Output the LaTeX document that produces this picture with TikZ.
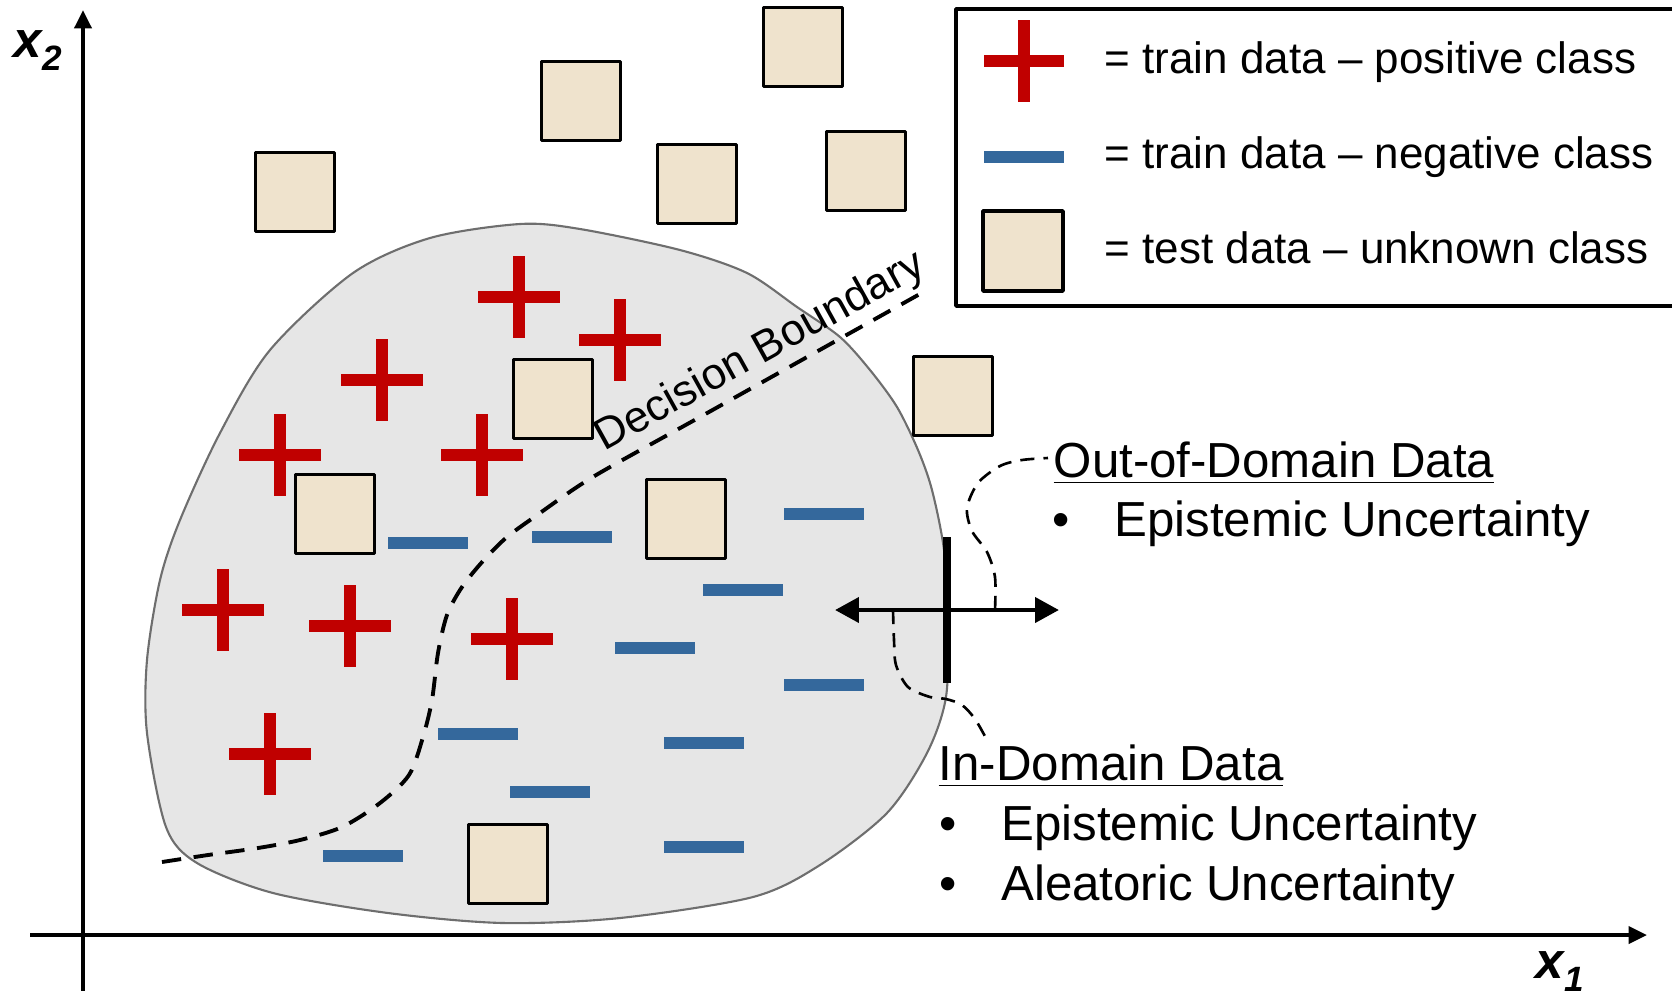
\documentclass[tikz,border=0pt]{standalone}
\usepackage{fontspec}
\setmainfont{Liberation Sans}
\usepackage{tikz}
\usetikzlibrary{arrows.meta}
\definecolor{posred}{RGB}{192,0,0}
\definecolor{negblue}{RGB}{52,104,156}
\definecolor{testbeige}{RGB}{239,227,205}
\definecolor{domaingray}{RGB}{230,230,230}
\definecolor{rimgray}{RGB}{110,110,110}
\tikzstyle{every node}=[font=\fontsize{14}{16}\selectfont,inner sep=0pt]

\begin{document}
\begin{tikzpicture}[line join=round,x=0.01cm,y=-0.01cm,
    testbox/.style={draw=black,line width=1pt,fill=testbeige,minimum size=0.79cm},
    posmark/.style={line width=3.3pt,color=posred},
    negmark/.style={line width=3.3pt,color=negblue},
    axisline/.style={line width=1.1pt,-{Triangle[length=5.2pt,width=4.8pt]}},
    callout/.style={line width=0.75pt,dash pattern=on 4pt off 2.6pt},
    legtext/.style={anchor=base west,font=\fontsize{12.5}{14}\selectfont},
    labtext/.style={anchor=base west},
    axislabel/.style={anchor=base west,font=\fontsize{14.5}{16}\selectfont\bfseries\itshape}]
\useasboundingbox (0,0) rectangle (1672,990);
\clip (0,0) rectangle (1672,990);

% region of the training data
\draw[line width=0.6pt,color=rimgray,fill=domaingray] plot[smooth cycle] coordinates {
  (520,224) (580,229) (680,250) (747,273) (797,307) (840,337) (870,370) (897,407)
  (918,450) (932,490) (944,550) (948,620) (946,697) (927,753) (887,813) (820,865)
  (753,897) (620,918) (503,923) (388,913) (273,893) (197,863) (166,827) (147,733)
  (147,660) (160,580) (180,520) (220,433) (270,350) (353,273) (430,238)};

% decision boundary
\draw[line width=1.1pt,dash pattern=on 5.5pt off 3.6pt] plot[smooth] coordinates {
  (162,862) (208,855) (258,848) (300,840) (342,827) (380,803) (409,775) (423,737)
  (432,700) (438,653) (447,615) (462,587) (483,561) (507,537) (540,513) (577,487)
  (610,467) (700,417) (800,361) (927,290)};
\node[rotate=29,anchor=base west,font=\fontsize{12.5}{14}\selectfont] (dbound) at (604,452) {Decision Boundary};

% positive class
\foreach \p in {(519,297),(620,340),(382,380),(280,455),(482,455),(223,610),(350,626),(512,639),(270,754)}
  \draw[posmark] \p +(-41,0) -- +(41,0) +(0,-41) -- +(0,41);
% negative class
\foreach \p in {(428,543),(572,537),(824,514),(743,590),(655,648),(824,685),(478,734),(704,743),(550,792),(363,856),(704,847)}
  \draw[negmark] \p +(-40,0) -- +(40,0);

% test data
\node[testbox] (t1) at (803,47) {};
\node[testbox] (t2) at (581,101) {};
\node[testbox] (t3) at (295,192) {};
\node[testbox] (t4) at (697,184) {};
\node[testbox] (t5) at (866,171) {};
\node[testbox] (t6) at (553,399) {};
\node[testbox] (t7) at (953,396) {};
\node[testbox] (t8) at (335,514) {};
\node[testbox] (t9) at (686,519) {};
\node[testbox] (t10) at (508,864) {};

% axes
\draw[axisline] (83,995) -- (83,10);
\draw[axisline] (30,935) -- (1647,935);
\node[axislabel] (xtwo) at (13,57) {x\raisebox{-3.7pt}{\fontsize{10}{12}\selectfont 2}};
\node[axislabel] (xone) at (1535,978) {x\raisebox{-3.7pt}{\fontsize{10}{12}\selectfont 1}};

% domain border
\coordinate (oodfoot) at (995,610);
\coordinate (idfoot) at (893,610);
\draw[line width=2pt] (947,537) -- (947,683);
\draw[line width=1.4pt,{Triangle[length=6.8pt,width=7pt]}-{Triangle[length=6.8pt,width=7pt]}] (835,610) -- (1059,610);

\node[labtext] (ood) at (1053,477) {\underline{Out-of-Domain Data}};
\node[labtext] (oodepi) at (1052,536) {•\hspace{12.6pt}Epistemic Uncertainty};
\node[labtext] (id) at (938,780) {\underline{In-Domain Data}};
\node[labtext] (idepi) at (939,840) {•\hspace{12.6pt}Epistemic Uncertainty};
\node[labtext] (idale) at (939,900) {•\hspace{12.6pt}Aleatoric Uncertainty};
\coordinate (oodend) at (1048,458);
\coordinate (idend) at (987,740);
\draw[callout] plot[smooth] coordinates {(oodfoot) (995,577) (987,552) (972,531) (967,508) (978,483) (1000,466) (1022,460) (oodend)};
\draw[callout] plot[smooth] coordinates {(idfoot) (894,640) (896,665) (908,687) (930,697) (946,699) (962,705) (975,719) (idend)};

% legend
\draw[line width=1pt] (956,9) rectangle (1690,306);
\draw[posmark] (1024,61) +(-40,0) -- +(40,0) +(0,-41) -- +(0,41);
\draw[negmark] (984,157) -- (1064,157);
\node[testbox,minimum size=0.8cm] (legtest) at (1023,251) {};
\node[legtext] (legpos) at (1104,73) {= train data – positive class};
\node[legtext] (legneg) at (1104,168) {= train data – negative class};
\node[legtext] (legunk) at (1104,263) {= test data – unknown class};
\end{tikzpicture}
\end{document}
